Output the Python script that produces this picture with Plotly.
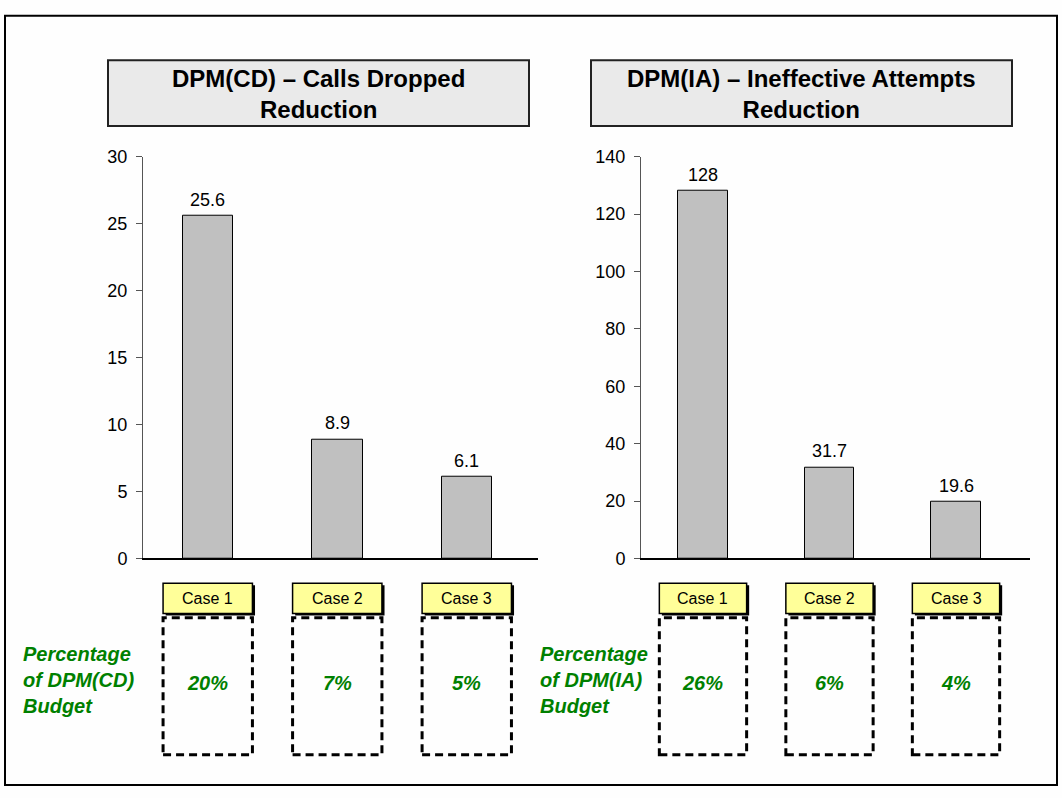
import plotly.graph_objects as go

# Data
cases = ["Case 1", "Case 2", "Case 3"]
cd_reduction = [25.6, 8.9, 6.1]
ia_reduction = [128, 31.7, 19.6]
cd_budget_pct = ["20%", "7%", "5%"]
ia_budget_pct = ["26%", "6%", "4%"]

W, H = 1062, 798
FONT = "Liberation Sans, Arial, sans-serif"
GREEN = "#008000"
BG = "#fefefe"


def px_x(p):
    return p / W


def px_y(p):
    return 1 - p / H


fig = go.Figure()

panels = [
    dict(x="x", y="y", vals=cd_reduction, pct=cd_budget_pct,
         xdom=[143, 538], xr=[-0.5, 2.55], yr=[0, 30], dt=5,
         title="DPM(CD) – Calls Dropped<br>Reduction", tbox=[108, 529],
         side="Percentage<br>of DPM(CD)<br>Budget", side_x=21),
    dict(x="x2", y="y2", vals=ia_reduction, pct=ia_budget_pct,
         xdom=[641, 1030], xr=[-0.49, 2.585], yr=[0, 140], dt=20,
         title="DPM(IA) – Ineffective Attempts<br>Reduction", tbox=[591, 1012],
         side="Percentage<br>of DPM(IA)<br>Budget", side_x=538),
]

# Vertical layout (pixels from the top of the page)
TITLE_TOP, TITLE_BOTTOM, TITLE_MID = 51.5, 119, 86.5
PLOT_TOP, PLOT_BOTTOM = 150.5, 562.5
CASE_TOP, CASE_BOTTOM, CASE_MID = 588, 619, 603.5
BOX_TOP, BOX_BOTTOM = 623.5, 764
PCT_MID, SIDE_MID = 690, 687

shapes = []
annotations = []

# Outer frame
shapes.append(dict(type="rect", xref="paper", yref="paper",
                   x0=px_x(5), x1=px_x(1057), y0=px_y(795), y1=px_y(6),
                   line=dict(color="black", width=2), fillcolor="rgba(0,0,0,0)",
                   layer="below"))

for i, p in enumerate(panels):
    fig.add_trace(go.Bar(
        x=list(range(len(cases))), y=p["vals"], xaxis=p["x"], yaxis=p["y"],
        width=0.39, marker=dict(color="#c0c0c0", line=dict(color="black", width=1)),
        showlegend=False, hoverinfo="skip",
    ))
    ax_suffix = "" if i == 0 else "2"
    fig.update_layout({
        f"xaxis{ax_suffix}": dict(
            domain=[px_x(p["xdom"][0]), px_x(p["xdom"][1])], range=p["xr"],
            anchor=p["y"], showline=True, linecolor="black", linewidth=2,
            showticklabels=False, ticks="", showgrid=False, zeroline=False,
            fixedrange=True),
        f"yaxis{ax_suffix}": dict(
            domain=[px_y(PLOT_BOTTOM), px_y(PLOT_TOP)], range=p["yr"], dtick=p["dt"],
            anchor=p["x"], showline=True, linecolor="#555555", linewidth=1,
            ticks="outside", ticklen=6, tickcolor="#555555", showgrid=False,
            ticklabelstandoff=5,
            zeroline=False, tickfont=dict(family=FONT, size=18, color="black"),
            fixedrange=True),
    })

    xref = p["x"]
    # Value labels above each bar
    for j, v in enumerate(p["vals"]):
        annotations.append(dict(
            x=j, y=v, xref=xref, yref=p["y"], text=f"{v:g}", showarrow=False,
            yanchor="bottom", yshift=4,
            font=dict(family=FONT, size=18, color="black")))

    # Case labels (yellow) and dashed budget boxes
    for j, c in enumerate(cases):
        shapes.append(dict(type="rect", xref=xref, yref="paper",
                           x0=j - 0.345 + 0.02, x1=j + 0.345 + 0.02,
                           y0=px_y(CASE_BOTTOM + 2), y1=px_y(CASE_TOP + 2),
                           line=dict(width=0), fillcolor="black"))
        shapes.append(dict(type="rect", xref=xref, yref="paper",
                           x0=j - 0.345, x1=j + 0.345,
                           y0=px_y(CASE_BOTTOM), y1=px_y(CASE_TOP),
                           line=dict(color="black", width=1.5),
                           fillcolor="#ffff99"))
        annotations.append(dict(
            x=j, y=px_y(CASE_MID), xref=xref, yref="paper", text=c,
            showarrow=False, xanchor="center", yanchor="middle",
            font=dict(family=FONT, size=16, color="black")))
        shapes.append(dict(type="rect", xref=xref, yref="paper",
                           x0=j - 0.345, x1=j + 0.345,
                           y0=px_y(BOX_BOTTOM), y1=px_y(BOX_TOP),
                           line=dict(color="black", width=3, dash="8px,5px"),
                           fillcolor="rgba(0,0,0,0)"))
        annotations.append(dict(
            x=j, y=px_y(PCT_MID), xref=xref, yref="paper",
            text=f"<b><i>{p['pct'][j]}</i></b>", showarrow=False,
            xanchor="center", yanchor="middle",
            font=dict(family=FONT, size=20, color=GREEN)))

    # Panel title box
    tx0, tx1 = p["tbox"]
    shapes.append(dict(type="rect", xref="paper", yref="paper",
                       x0=px_x(tx0), x1=px_x(tx1),
                       y0=px_y(TITLE_BOTTOM), y1=px_y(TITLE_TOP),
                       line=dict(color="#222222", width=2), fillcolor="#eaeaea"))
    annotations.append(dict(
        x=px_x((tx0 + tx1) / 2), y=px_y(TITLE_MID), xref="paper", yref="paper",
        text=f"<b>{p['title']}</b>", showarrow=False,
        xanchor="center", yanchor="middle", align="center",
        font=dict(family=FONT, size=24, color="black")))

    # Side caption
    annotations.append(dict(
        x=px_x(p["side_x"]), y=px_y(SIDE_MID), xref="paper", yref="paper",
        text=f"<b><i>{p['side']}</i></b>", showarrow=False,
        xanchor="left", yanchor="middle", align="left",
        font=dict(family=FONT, size=20, color=GREEN)))

fig.update_layout(
    width=W, height=H, margin=dict(l=0, r=0, t=0, b=0, pad=0),
    paper_bgcolor=BG, plot_bgcolor=BG,
    shapes=shapes, annotations=annotations, bargap=0,
    font=dict(family=FONT), dragmode=False, hovermode=False,
)

fig.write_html("out.html")
